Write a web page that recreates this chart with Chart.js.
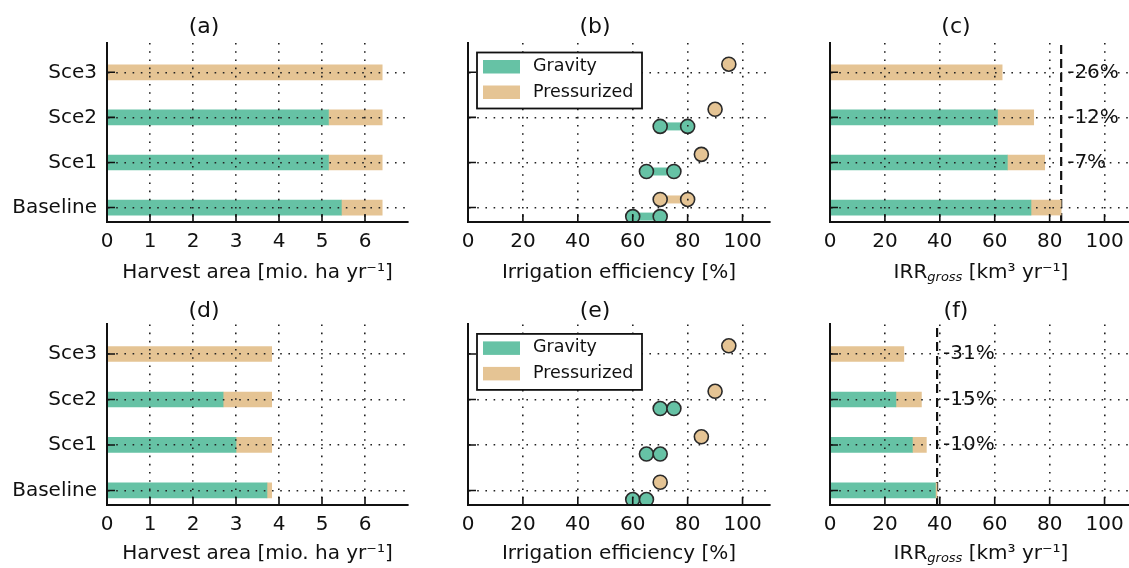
<!DOCTYPE html>
<html lang="en">
<head>
<meta charset="UTF-8">
<title>Harvest area, irrigation efficiency and IRR gross</title>
<script src="https://cdn.jsdelivr.net/npm/chart.js@4.4.1/dist/chart.umd.min.js"></script>
<style>
  html, body { margin: 0; padding: 0; background: #fff; overflow: hidden; }
  body { width: 1129px; height: 568px; position: relative; }
  .panel { position: absolute; }
  canvas { display: block; }
</style>
</head>
<body>
<div class="panel" style="left:0;top:0"><canvas id="pa" width="420" height="285"></canvas></div>
<div class="panel" style="left:420px;top:0"><canvas id="pb" width="360" height="285"></canvas></div>
<div class="panel" style="left:780px;top:0"><canvas id="pc" width="360" height="285"></canvas></div>
<div class="panel" style="left:0;top:282px"><canvas id="pd" width="420" height="284"></canvas></div>
<div class="panel" style="left:420px;top:282px"><canvas id="pe" width="360" height="284"></canvas></div>
<div class="panel" style="left:780px;top:282px"><canvas id="pf" width="360" height="284"></canvas></div>

<script>
// categories (bottom to top)
const scenarios = ['Baseline', 'Sce1', 'Sce2', 'Sce3'];

// harvest area [mio. ha/yr], gravity part and pressurized part
const areaGravityA = [5.45, 5.15, 5.15, 0];
const areaPressA   = [0.95, 1.25, 1.25, 6.4];
const areaGravityD = [3.72, 3.0, 2.7, 0];
const areaPressD   = [0.11, 0.83, 1.13, 3.83];

// irrigation efficiency [%], low / high value per scenario
const effGravLoB = [60, 65, 70, null];
const effGravHiB = [70, 75, 80, null];
const effPresLoB = [70, 85, 90, 95];
const effPresHiB = [80, 85, 90, 95];
const effGravLoE = [60, 65, 70, null];
const effGravHiE = [65, 70, 75, null];
const effPresLoE = [70, 85, 90, 95];
const effPresHiE = [70, 85, 90, 95];

// IRR gross [km3/yr]
const irrGravityC = [73.2, 64.6, 61.0, 0];
const irrPressC   = [11.0, 13.6, 13.2, 62.7];
const irrBaseC = 84.2;
const irrChangeC = ['', '-7%', '-12%', '-26%'];
const irrGravityF = [38.4, 30.0, 24.0, 0];
const irrPressF   = [0.6, 5.1, 9.3, 26.9];
const irrBaseF = 39.0;
const irrChangeF = ['', '-10%', '-15%', '-31%'];

// tick labels
const areaTicks = [0, 1, 2, 3, 4, 5, 6];
const pctTicks = [0, 20, 40, 60, 80, 100];

const GREEN = '#66c2a5';
const TAN = '#e5c494';
const Y_MIN = -0.32, Y_MAX = 3.65;
const GRAV_OFF = -0.2, PRES_OFF = 0.18;

Chart.defaults.font.family = "'DejaVu Sans', sans-serif";
Chart.defaults.color = '#111';
Chart.defaults.animation = false;
Chart.defaults.plugins.legend.display = false;
Chart.defaults.plugins.tooltip.enabled = false;

// matplotlib-ish extras: inward ticks, framed legend, % notes, IRR_gross title
const decor = {
  id: 'decor',
  afterDraw(chart, args, o) {
    const ctx = chart.ctx, ca = chart.chartArea;
    const x = chart.scales.x, y = chart.scales.y;
    ctx.save();
    ctx.strokeStyle = '#111';
    ctx.lineWidth = 1.6;
    ctx.beginPath();
    x.ticks.forEach(t => {
      const px = x.getPixelForValue(t.value);
      ctx.moveTo(px, ca.bottom); ctx.lineTo(px, ca.bottom - 8);
    });
    y.ticks.forEach(t => {
      const py = y.getPixelForValue(t.value);
      ctx.moveTo(ca.left, py); ctx.lineTo(ca.left + 8, py);
    });
    ctx.stroke();

    ctx.textAlign = 'left';
    ctx.textBaseline = 'middle';
    if (o.notes) {
      ctx.fillStyle = '#111';
      ctx.font = '20px "DejaVu Sans"';
      const px = x.getPixelForValue(o.notes.at) + 6;
      o.notes.labels.forEach((s, i) => { if (s) ctx.fillText(s, px, y.getPixelForValue(i)); });
    }
    if (o.legend) {
      const items = chart.data.datasets.filter(d => d.label);
      const bx = ca.left + 9, by = ca.top + 9.5;
      ctx.fillStyle = '#fff';
      ctx.fillRect(bx, by, 165, 56);
      ctx.lineWidth = 1.8;
      ctx.strokeRect(bx, by, 165, 56);
      ctx.font = '17.5px "DejaVu Sans"';
      items.forEach((d, i) => {
        const cy = by + 14 + i * 25.5;
        ctx.fillStyle = d.backgroundColor;
        ctx.fillRect(bx + 6, cy - 6.5, 37, 13.5);
        ctx.fillStyle = '#111';
        ctx.fillText(d.label, bx + 56, cy);
      });
    }
    if (o.irrTitle) {
      const parts = [
        ['IRR', '20px "DejaVu Sans"', 0],
        ['gross', 'italic 13px "DejaVu Sans"', 5],
        [' [km\u00b3 yr\u207b\u00b9]', '20px "DejaVu Sans"', 0]
      ];
      let w = 0;
      parts.forEach(p => { ctx.font = p[1]; w += ctx.measureText(p[0]).width; });
      let cx = (ca.left + ca.right) / 2 - w / 2;
      const ty = x.bottom - 12;
      ctx.fillStyle = '#111';
      parts.forEach(p => {
        ctx.font = p[1];
        ctx.fillText(p[0], cx, ty + p[2]);
        cx += ctx.measureText(p[0]).width;
      });
    }
    ctx.restore();
  }
};

function xScale(max, ticks, title, h) {
  return {
    type: 'linear', min: 0, max: max, stacked: true, offset: false,
    afterBuildTicks: s => { s.ticks = ticks.map(v => ({ value: v })); },
    afterFit: s => { s.height = h; },
    grid: { color: '#222', lineWidth: 1.6, drawTicks: false, offset: false, z: 1 },
    border: { color: '#111', width: 2, dash: [1.6, 6.6], z: 2 },
    ticks: { font: { size: 20 }, padding: 8, color: '#111' },
    title: { display: !!title, text: title, font: { size: 20 }, color: '#111', padding: { top: 0, bottom: 0 } }
  };
}

function yScale(w, showLabels) {
  return {
    type: 'linear', min: Y_MIN, max: Y_MAX, stacked: true, offset: false,
    afterBuildTicks: s => { s.ticks = scenarios.map((c, i) => ({ value: i })); },
    afterFit: s => { s.width = w; },
    grid: { color: '#222', lineWidth: 1.6, drawTicks: false, offset: false, z: 1 },
    border: { color: '#111', width: 2, dash: [1.6, 6.6], z: 2 },
    ticks: { display: showLabels, font: { size: 20 }, padding: 10, color: '#111', callback: v => scenarios[v] }
  };
}

function titleOpts(text, top) {
  return top
    ? { display: true, text: text, font: { size: 22, weight: 'normal' }, color: '#111', padding: { top: 14, bottom: 2.6 } }
    : { display: true, text: text, font: { size: 22, weight: 'normal' }, color: '#111', padding: { top: 16, bottom: 0 } };
}

function barPanel(id, letter, top, gravity, press, cfg) {
  const datasets = [
    { label: 'Gravity', data: gravity.map((v, i) => ({ x: v, y: i })), backgroundColor: GREEN, barThickness: 15 },
    { label: 'Pressurized', data: press.map((v, i) => ({ x: v, y: i })), backgroundColor: TAN, barThickness: 15 }
  ];
  if (cfg.base !== undefined) {
    datasets.push({
      type: 'line', stack: 'ref',
      data: [{ x: cfg.base, y: Y_MIN }, { x: cfg.base, y: Y_MAX }],
      borderColor: '#111', borderWidth: 2.2, borderDash: [9, 5], pointRadius: 0
    });
  }
  return new Chart(document.getElementById(id), {
    type: 'bar',
    data: { datasets: datasets },
    options: {
      indexAxis: 'y', responsive: false, devicePixelRatio: 1,
      layout: { padding: { right: cfg.right } },
      scales: {
        x: xScale(cfg.max, cfg.ticks, cfg.title, top ? 63 : 61),
        y: yScale(cfg.yw, cfg.labels)
      },
      plugins: {
        title: titleOpts(letter, top),
        decor: { notes: cfg.notes, irrTitle: cfg.irrTitle }
      }
    },
    plugins: [decor]
  });
}

function effPanel(id, letter, top, gLo, gHi, pLo, pHi) {
  const datasets = [];
  const series = [[gLo, gHi, GRAV_OFF, GREEN, 'Gravity'], [pLo, pHi, PRES_OFF, TAN, 'Pressurized']];
  // connecting bars between low and high values
  series.forEach(([lo, hi, off, col]) => {
    lo.forEach((v, i) => {
      if (v === null || v === hi[i]) return;
      datasets.push({
        type: 'line', order: 2,
        data: [{ x: v, y: i + off }, { x: hi[i], y: i + off }],
        borderColor: col, borderWidth: 8, pointRadius: 0
      });
    });
  });
  series.forEach(([lo, hi, off, col, name]) => {
    const pts = [];
    lo.forEach((v, i) => {
      if (v === null) return;
      pts.push({ x: v, y: i + off });
      if (hi[i] !== v) pts.push({ x: hi[i], y: i + off });
    });
    datasets.push({
      type: 'scatter', order: 1, label: name, data: pts,
      backgroundColor: col, borderColor: '#2a2a2a', borderWidth: 1.6, pointRadius: 7
    });
  });
  const xs = xScale(110, pctTicks, 'Irrigation efficiency [%]', top ? 63 : 61);
  xs.stacked = false;
  const ys = yScale(48, false);
  ys.stacked = false;
  return new Chart(document.getElementById(id), {
    type: 'scatter',
    data: { datasets: datasets },
    options: {
      responsive: false, devicePixelRatio: 1,
      layout: { padding: { right: 10 } },
      scales: { x: xs, y: ys },
      plugins: { title: titleOpts(letter, top), decor: { legend: true } }
    },
    plugins: [decor]
  });
}

barPanel('pa', '(a)', true, areaGravityA, areaPressA,
  { max: 7, ticks: areaTicks, title: 'Harvest area [mio. ha yr\u207b\u00b9]', right: 12, yw: 107, labels: true });
effPanel('pb', '(b)', true, effGravLoB, effGravHiB, effPresLoB, effPresHiB);
barPanel('pc', '(c)', true, irrGravityC, irrPressC,
  { max: 110, ticks: pctTicks, title: '', right: 8, yw: 50, labels: false, base: irrBaseC,
    notes: { at: irrBaseC, labels: irrChangeC }, irrTitle: true });

barPanel('pd', '(d)', false, areaGravityD, areaPressD,
  { max: 7, ticks: areaTicks, title: 'Harvest area [mio. ha yr\u207b\u00b9]', right: 12, yw: 107, labels: true });
effPanel('pe', '(e)', false, effGravLoE, effGravHiE, effPresLoE, effPresHiE);
barPanel('pf', '(f)', false, irrGravityF, irrPressF,
  { max: 110, ticks: pctTicks, title: '', right: 8, yw: 50, labels: false, base: irrBaseF,
    notes: { at: irrBaseF, labels: irrChangeF }, irrTitle: true });
</script>
</body>
</html>
